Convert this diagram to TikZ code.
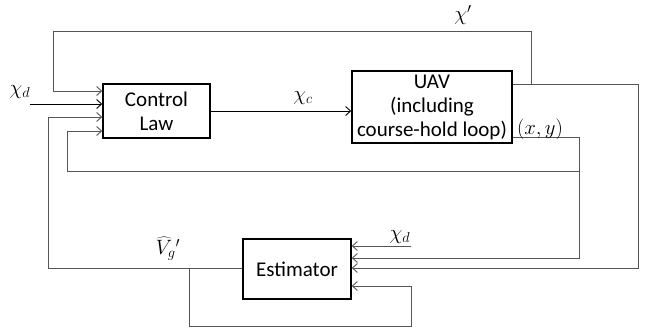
\documentclass[tikz,border=0pt]{standalone}
\usepackage{fontspec}
\setmainfont{Carlito}
\usetikzlibrary{arrows.meta, calc}
\definecolor{wiregray}{RGB}{85,85,85}
\newcommand{\blockfont}{\fontsize{21}{24}\selectfont}
\newcommand{\sigfont}{\fontsize{22}{26}\selectfont}

\begin{document}
\begin{tikzpicture}[x=1pt, y=-1pt, >={Straight Barb[length=5pt, width=9pt]},
  block/.style={draw, line width=1.5pt, align=center, inner sep=0pt, font=\blockfont},
  wire/.style={wiregray, line width=0.9pt},
  sig/.style={font=\sigfont, inner sep=0pt}]
  \useasboundingbox (0,0) rectangle (651,329);
  % Blocks
  \node[block, minimum width=107pt, minimum height=54pt] (law) at (156.5,111) {Control\\Law};
  \node[block, minimum width=160pt, minimum height=72pt] (uav) at (432,107) {UAV\\(including\\course-hold loop)};
  \node[block, minimum width=108pt, minimum height=60pt] (est) at (297,269) {Estimator};
  % Command path
  \coordinate (xdin) at (30,104);
  \draw[->, line width=0.9pt] (xdin) -- (xdin -| law.west);
  \draw[->, line width=0.9pt] (law.east) -- (law.east -| uav.west);
  % Course output chi'
  \coordinate (chiout) at (638,84);
  \coordinate (chidown) at (638,268);
  \draw[wire, ->] (uav.east |- chiout) -- (chiout) -- (chidown) -- (chidown -| est.east);
  \coordinate (chitap) at (531,84);
  \coordinate (topleft) at (53,31);
  \coordinate (topin) at (53,91);
  \draw[wire, ->] (chitap) |- (topleft) -- (topin) -- (topin -| law.west);
  % Position output (x,y)
  \coordinate (xyout) at (579,137);
  \coordinate (xydown) at (579,258);
  \draw[wire, ->] (uav.east |- xyout) -- (xyout) -- (xydown) -- (xydown -| est.east);
  \coordinate (xytap) at (579,171);
  \coordinate (xyin) at (67,131);
  \draw[wire, ->] (xytap) -| (xyin) -- (xyin -| law.west);
  % Estimate feedback
  \coordinate (vgleft) at (48,268);
  \coordinate (vgin) at (48,117);
  \draw[wire, ->] (est.west |- vgleft) -- (vgleft) -- (vgin) -- (vgin -| law.west);
  \coordinate (vgtap) at (189,268);
  \coordinate (selfbot) at (189,326);
  \coordinate (selfin) at (411,286);
  \draw[wire, ->] (vgtap) -- (selfbot) -| (selfin) -- (selfin -| est.east);
  \coordinate (xdest) at (411,246);
  \draw[wire, ->] (xdest) -- (xdest -| est.east);
  % Labels
  \node[sig] (xdlbl) at (20,92) {$\chi_d$};
  \node[sig] (xclbl) at (303,98) {$\chi_c$};
  \node[sig] (chilbl) at (463,15) {$\chi'$};
  \node[sig] (xylbl) at (540,129) {$(x,y)$};
  \node[sig] (vglbl) at (168,249) {$\widehat{V}_g{}'$};
  \node[sig] (xdestlbl) at (400,237) {$\chi_d$};
\end{tikzpicture}
\end{document}
